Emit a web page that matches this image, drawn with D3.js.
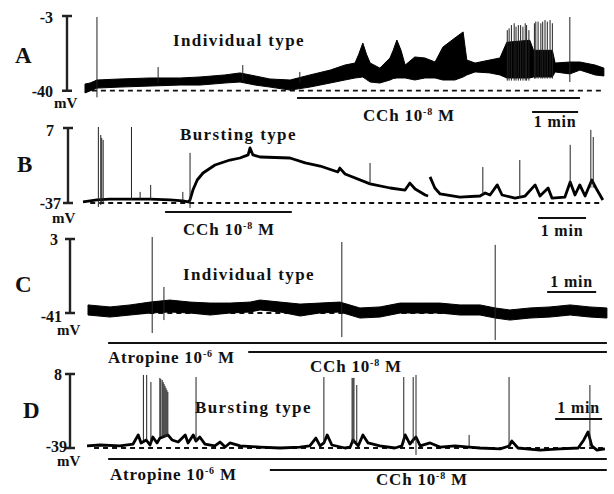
<!DOCTYPE html>
<html>
<head>
<meta charset="utf-8">
<script src="https://cdn.jsdelivr.net/npm/d3@7"></script>
<style>
  body { margin: 0; background: #fff; }
  svg text { font-family: "Liberation Serif", "Times New Roman", serif; font-weight: bold; fill: #111; }
</style>
</head>
<body>
<script>
// ---- data (time in min from trace start, potential in mV) ----

// A: envelope of the noisy trace [min, upper, lower]
const aBand = [
  [0, -36.7, -41.1], [0.11, -36.2, -40.1], [0.26, -34.7, -38.7], [0.76, -34.2, -38.2],
  [1.41, -33.7, -37.7], [2.07, -33.7, -37.2], [2.50, -33.2, -37.2], [3.04, -32.2, -36.2],
  [3.37, -31.2, -35.7], [3.70, -32.7, -37.2], [4.02, -34.2, -38.2], [4.46, -34.7, -39.7],
  [4.89, -32.2, -38.2], [5.33, -29.8, -36.2], [5.65, -27.3, -34.7], [5.87, -26.3, -33.7],
  [5.95, -22.0, -33.5], [6.04, -16.4, -33.2], [6.12, -22.0, -34.5], [6.20, -26.3, -35.7],
  [6.41, -28.8, -36.2], [6.63, -23.8, -34.7], [6.70, -20.0, -34.0], [6.78, -14.9, -33.7],
  [6.87, -20.0, -33.7], [6.96, -27.3, -33.7], [7.17, -23.3, -34.7], [7.39, -23.8, -33.7],
  [7.61, -25.8, -33.7], [7.78, -18.4, -34.7], [8.04, -13.9, -34.7], [8.22, -10.9, -33.2],
  [8.30, -24.8, -32.2], [8.48, -26.3, -30.7], [8.80, -24.8, -31.2], [9.02, -23.8, -32.2],
  [9.17, -16.0, -33.7], [9.67, -15.0, -33.7], [9.75, -20.0, -33.2], [10.16, -20.0, -33.2],
  [10.22, -26.3, -30.7], [10.54, -25.8, -31.7], [10.76, -25.8, -29.8], [11.09, -27.3, -32.2],
  [11.28, -28.8, -32.7]
];
// A: spikes [min, top, bottom]
const aSpikes = [
  [0.26, -3.5, -43.3], [1.59, -28.3, -36], [3.43, -27.3, -35], [4.67, -30.7, -36],
  [9.18, -10.0, -35], [9.22, -9.1, -35], [9.27, -7.5, -35], [9.33, -6.6, -35],
  [9.37, -8.3, -35], [9.42, -7.5, -35], [9.47, -7.5, -35], [9.52, -8.3, -35],
  [9.57, -6.6, -35], [9.60, -7.5, -35], [9.65, -10.0, -35],
  [9.77, -6.6, -34], [9.80, -5.8, -34], [9.85, -5.8, -34], [9.91, -6.6, -34],
  [9.95, -5.8, -34], [10.00, -5.0, -34], [10.05, -5.8, -34], [10.11, -5.0, -34],
  [10.16, -6.6, -34], [10.54, -3.5, -35.7]
];

// B: trace [min, mV], null = break in the record
const bTrace = [
  [0, -36.4], [0.15, -35.8], [0.29, -35.2], [0.56, -34.7], [0.98, -34.7], [1.40, -34.7],
  [1.81, -35.2], [2.08, -35.8], [2.19, -36.4], [2.23, -35.2], [2.29, -29.4], [2.38, -23.5],
  [2.50, -19.4], [2.75, -14.7], [3.06, -11.8], [3.27, -10.6], [3.44, -8.8], [3.48, -4.7],
  [3.54, -8.8], [3.69, -10.0], [4.31, -10.6], [4.63, -13.5], [4.94, -15.3], [5.31, -18.8],
  [5.35, -16.5], [5.46, -20.0], [5.98, -25.8], [6.40, -28.2], [6.71, -29.4], [6.81, -25.3],
  [6.92, -28.8], [7.13, -32.3], [7.19, -32.9], null,
  [7.23, -21.7], [7.33, -28.2], [7.44, -31.7], [7.85, -33.5], [8.27, -32.9], [8.38, -31.1],
  [8.48, -32.3], [8.63, -26.4], [8.73, -32.3], [9.00, -34.1], [9.21, -32.9], [9.42, -26.4],
  [9.52, -32.9], [9.69, -28.2], [9.77, -34.1], [10.04, -33.5], [10.15, -24.7], [10.25, -32.3],
  [10.35, -26.4], [10.46, -32.9], [10.60, -23.5], [10.71, -29.4], [10.83, -35.2]
];
const bSpikes = [
  [0.32, 7.6, -39.3], [0.37, 2.9, -38.2], [0.39, 1.2, -37.6], [0.42, 0.0, -37.6],
  [1.01, 7.6, -35.2], [1.19, -30.5, -35], [1.41, -26.4, -35], [2.08, -30.5, -36],
  [2.23, -7.6, -39.9], [5.98, -13.5, -26], [8.33, -15.9, -32], [9.10, -11.8, -34],
  [10.15, -2.9, -26], [10.58, 5.9, -28], [10.63, 1.7, -28]
];

// C: envelope [min, upper, lower]
const cBand = [
  [0, -36.2, -42.2], [0.45, -37.4, -43.4], [0.86, -36.2, -42.2], [1.27, -34.5, -41.0],
  [1.67, -33.3, -40.4], [2.08, -34.5, -41.0], [2.49, -35.1, -42.2], [2.90, -35.1, -41.0],
  [3.31, -34.5, -40.4], [3.51, -33.3, -39.2], [3.92, -34.5, -40.4], [4.33, -35.7, -42.8],
  [4.73, -35.1, -41.0], [5.14, -34.5, -40.4], [5.55, -38.0, -44.0], [5.96, -37.4, -43.4],
  [6.37, -35.1, -41.0], [6.78, -35.1, -41.0], [7.18, -35.1, -41.0], [7.59, -36.2, -42.2],
  [8.00, -36.2, -42.2], [8.31, -38.0, -44.0], [8.61, -39.2, -45.2], [9.02, -38.0, -44.0],
  [9.43, -37.4, -43.4], [9.84, -36.2, -42.2], [10.24, -37.4, -43.4], [10.59, -38.0, -44.0]
];
const cSpikes = [[1.31, 4.2, -52.9], [1.55, -25.5, -45.2], [5.18, 1.2, -55.3], [8.31, -0.5, -57.1]];

// D: trace [min, mV]
const dTrace = [
  [0, -37.7], [0.28, -37.1], [0.70, -37.7], [0.98, -36.5], [1.09, -30.7], [1.15, -35.8],
  [1.26, -33.9], [1.34, -37.1], [1.40, -32.0], [1.49, -35.8], [1.55, -32.7], [1.72, -30.7],
  [1.81, -33.9], [1.94, -35.2], [2.09, -30.7], [2.15, -35.8], [2.26, -30.7], [2.32, -34.6],
  [2.40, -32.0], [2.51, -36.5], [2.72, -37.7], [2.83, -35.2], [2.94, -38.4], [3.04, -35.8],
  [3.26, -37.7], [3.68, -38.4], [4.11, -39.0], [4.53, -38.4], [4.74, -37.7], [4.87, -32.7],
  [4.96, -37.7], [5.04, -35.8], [5.11, -30.7], [5.21, -37.1], [5.49, -39.0], [5.60, -38.4],
  [5.66, -33.9], [5.77, -37.7], [5.87, -30.7], [5.98, -35.8], [6.23, -37.7], [6.55, -39.0],
  [6.70, -37.7], [6.77, -30.7], [6.87, -36.5], [6.94, -33.9], [7.00, -32.0], [7.09, -37.7],
  [7.30, -35.8], [7.51, -38.4], [7.83, -37.7], [8.13, -38.4], [8.36, -39.0], [8.79, -39.6],
  [8.98, -37.7], [9.04, -34.6], [9.17, -39.0], [9.64, -40.3], [10.06, -39.6], [10.45, -39.0],
  [10.57, -33.9], [10.66, -28.8], [10.74, -37.7], [10.85, -40.3], [11.02, -39.6]
];
const dSpikes = [
  [1.20, 7.4, -34], [1.27, 7.4, -34], [1.36, 2.9, -36], [1.55, 5.5, -32], [1.57, 4.8, -32],
  [1.60, 4.2, -32], [1.62, 2.9, -32], [1.64, 1.6, -32], [1.66, 0.4, -32], [1.68, -0.9, -32],
  [1.70, -2.2, -32], [1.72, -3.4, -32], [2.32, 6.1, -35], [5.04, 6.1, -36], [5.64, 5.5, -36],
  [5.66, 5.5, -36], [5.68, 5.5, -36], [5.74, 1.0, -36], [6.74, 6.1, -36], [6.94, 6.1, -36],
  [7.00, 7.4, -43.4], [8.13, -30.7, -38], [8.98, 6.1, -39], [10.70, 1.0, -38]
];

// panel labels, mV scale bars [bottom, top], type labels
const panelNames = ["A", "B", "C", "D"];
const mvRange = [[-40, -3], [-37, 7], [-41, 3], [-39, 8]];
const typeLabels = ["Individual type", "Bursting type", "Individual type", "Bursting type"];
// drug application bars [name, exponent, start min, end min]
const aDrugs = [["CCh", "-8", 4.61, 10.76]];
const bDrugs = [["CCh", "-8", 1.71, 4.35]];
const cDrugs = [["Atropine", "-6", 0.41, 10.59], ["CCh", "-8", 3.27, 10.59]];
const dDrugs = [["Atropine", "-6", 0.45, 11.06], ["CCh", "-8", 3.89, 11.06]];
// start of the 1 min time bar in each panel
const minBarStart = [9.72, 9.48, 9.37, 9.96];

// ---- layout ----
const W = 614, H = 494;
const svg = d3.select("body").append("svg").attr("width", W).attr("height", H);

const layout = [
  { x0: 85, ppm: 46, top: 16, bot: 90.7, barX: 67, letter: [15, 63], type: [173, 46],
    topLab: [53, 23], botLab: [53, 97], mv: [54, 108], minY: 112, minTextY: 127,
    drugY: [98], drugText: [[363, 121]], end: 11.28 },
  { x0: 83, ppm: 48, top: 128, bot: 203, barX: 68, letter: [17, 172], type: [180, 140],
    topLab: [54, 136], botLab: [61, 209], mv: [52, 223], minY: 218, minTextY: 236,
    drugY: [212], drugText: [[183, 235]], end: 10.83 },
  { x0: 88, ppm: 49, top: 239, bot: 313, barX: 70, letter: [15, 292], type: [183, 280],
    topLab: [58, 245], botLab: [62, 322], mv: [57, 335], minY: 292, minTextY: 287,
    drugY: [343, 352], drugText: [[108, 363], [310, 372]], end: 10.59 },
  { x0: 87, ppm: 47, top: 374, bot: 448, barX: 70, letter: [23, 418], type: [195, 413],
    topLab: [62, 380], botLab: [67, 452], mv: [57, 466], minY: 419, minTextY: 413,
    drugY: [459, 470], drugText: [[110, 480], [376, 485]], end: 11.06 }
];

const bands = [aBand, null, cBand, null];
const traces = [null, bTrace, null, dTrace];
const spikes = [aSpikes, bSpikes, cSpikes, dSpikes];
const drugs = [aDrugs, bDrugs, cDrugs, dDrugs];

function drugLabel(g, d, pos) {
  const t = g.append("text").attr("x", pos[0]).attr("y", pos[1])
    .attr("font-size", 17).attr("letter-spacing", 0.8);
  t.append("tspan").text(d[0] + " 10");
  t.append("tspan").attr("dy", -6).attr("font-size", 10).text(d[1].replace("-", "\u2011"));
  t.append("tspan").attr("dy", 6).text(" M");
}

layout.forEach((L, i) => {
  const g = svg.append("g");
  const x = d3.scaleLinear().domain([0, 11.5]).range([L.x0, L.x0 + 11.5 * L.ppm]);
  const y = d3.scaleLinear().domain(mvRange[i]).range([L.bot, L.top]);

  // resting level (dashed)
  g.append("line")
    .attr("x1", x(0.15)).attr("x2", x(L.end))
    .attr("y1", y(mvRange[i][0])).attr("y2", y(mvRange[i][0]))
    .attr("stroke", "#111").attr("stroke-width", 1.8).attr("stroke-dasharray", "5,4");

  // trace
  if (bands[i]) {
    const area = d3.area().x(d => x(d[0])).y0(d => y(d[2])).y1(d => y(d[1]));
    g.append("path").datum(bands[i]).attr("d", area)
      .attr("fill", "#000").attr("stroke", "#000").attr("stroke-width", 1);
  }
  if (traces[i]) {
    const line = d3.line().defined(d => d !== null).x(d => x(d[0])).y(d => y(d[1]));
    g.append("path").datum(traces[i]).attr("d", line)
      .attr("fill", "none").attr("stroke", "#000").attr("stroke-width", 2.8)
      .attr("stroke-linejoin", "round");
  }
  g.selectAll("line.spike").data(spikes[i]).join("line").attr("class", "spike")
    .attr("x1", d => x(d[0])).attr("x2", d => x(d[0]))
    .attr("y1", d => y(d[1])).attr("y2", d => y(d[2]))
    .attr("stroke", "#222").attr("stroke-width", 1);

  // mV scale bar
  const yt = y(mvRange[i][1]), yb = y(mvRange[i][0]);
  g.append("path")
    .attr("d", `M${L.barX - 5},${yt}H${L.barX + 5}M${L.barX},${yt}V${yb}M${L.barX - 5},${yb}H${L.barX + 5}`)
    .attr("stroke", "#222").attr("stroke-width", 2.4).attr("fill", "none");
  g.append("text").attr("x", L.topLab[0]).attr("y", L.topLab[1]).attr("text-anchor", "end")
    .attr("font-size", 16).text(mvRange[i][1]);
  g.append("text").attr("x", L.botLab[0]).attr("y", L.botLab[1]).attr("text-anchor", "end")
    .attr("font-size", 16).text(mvRange[i][0]);
  g.append("text").attr("x", L.mv[0]).attr("y", L.mv[1]).attr("font-size", 15).text("mV");

  g.append("text").attr("x", L.letter[0]).attr("y", L.letter[1])
    .attr("font-size", 23).text(panelNames[i]);
  g.append("text").attr("x", L.type[0]).attr("y", L.type[1])
    .attr("font-size", 17).attr("letter-spacing", 1.4).text(typeLabels[i]);

  // drug bars
  drugs[i].forEach((d, k) => {
    g.append("line").attr("x1", x(d[2])).attr("x2", x(d[3]))
      .attr("y1", L.drugY[k]).attr("y2", L.drugY[k])
      .attr("stroke", "#111").attr("stroke-width", 2.2);
    drugLabel(g, d, L.drugText[k]);
  });

  // 1 min bar
  const m0 = minBarStart[i];
  g.append("line").attr("x1", x(m0)).attr("x2", x(m0 + 1))
    .attr("y1", L.minY).attr("y2", L.minY).attr("stroke", "#111").attr("stroke-width", 2.2);
  g.append("text").attr("x", (x(m0) + x(m0 + 1)) / 2).attr("y", L.minTextY)
    .attr("text-anchor", "middle").attr("font-size", 16).attr("letter-spacing", 0.8).text("1 min");
});
</script>
</body>
</html>
